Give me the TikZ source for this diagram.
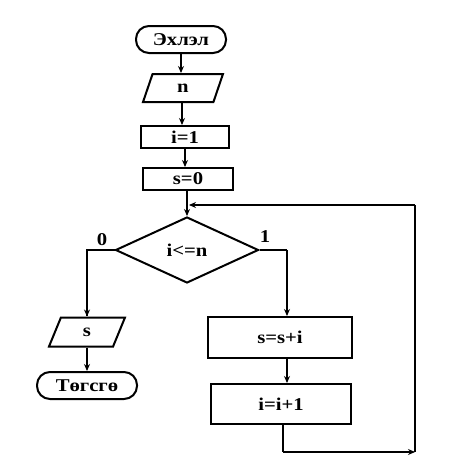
\documentclass[tikz,border=0pt]{standalone}
\usepackage{fontspec}
\setmainfont[FakeStretch=1.15]{Liberation Serif}
\usetikzlibrary{shapes.geometric,arrows.meta}
\begin{document}
\begin{tikzpicture}[x=1pt,y=-1pt,
  every node/.style={font=\fontsize{18}{20}\selectfont\bfseries, inner sep=0pt, line width=2pt},
  term/.style={draw, rectangle, rounded corners=13pt},
  io/.style={draw, trapezium, trapezium left angle=78, trapezium right angle=102, trapezium stretches=true},
  proc/.style={draw, rectangle},
  dec/.style={draw, diamond, aspect=2.17},
  conn/.style={line width=2pt},
  arr/.style={conn, -{Stealth[length=7pt,width=6pt]}},
  lbl/.style={font=\fontsize{18}{20}\selectfont\bfseries}]
\useasboundingbox (0,0) rectangle (459,458);
\node[term, minimum width=90pt, minimum height=27pt] (start) at (181,39.5) {Эхлэл};
\node[io, minimum width=80pt, minimum height=28pt] (n) at (183,88) {n};
\node[proc, minimum width=88pt, minimum height=22pt] (i1) at (185,137) {i=1};
\node[proc, minimum width=90pt, minimum height=22pt] (s0) at (188,179) {s=0};
\node[dec, minimum width=143pt, minimum height=66pt] (dia) at (187,250) {i<=n};
\node[io, minimum width=76pt, minimum height=29pt] (sout) at (87,332) {s};
\node[term, minimum width=100pt, minimum height=27pt] (end) at (87,385.5) {Төгсгө};
\node[proc, minimum width=144pt, minimum height=41pt] (ssi) at (280,337.5) {s=s+i};
\node[proc, minimum width=140pt, minimum height=40pt] (ii1) at (281,404) {i=i+1};
\node[lbl] (l0) at (102,240) {0};
\node[lbl] (l1) at (265,237) {1};
\coordinate (c1) at (415,452);
\coordinate (c2) at (415,205);
\coordinate (rb) at (287,250);
\coordinate (lb) at (283,452);
\draw[arr] (start) -- (start |- n.north);
\draw[arr] (n.south -| 182,0) -- (182,0 |- i1.north);
\draw[arr] (i1.south -| 185,0) -- (185,0 |- s0.north);
\draw[arr] (s0.south -| dia.north) -- (dia.north);
\draw[arr] (c2) -- ([xshift=2pt]dia.north |- c2);
\draw[conn] (dia.west) -| (sout.north);
\draw[arr] (dia.west -| sout.north) -- (sout.north);
\draw[conn] (dia.east) -- (rb);
\draw[arr] (rb) -- (rb |- ssi.north);
\draw[arr] (rb |- ssi.south) -- (rb |- ii1.north);
\draw[arr] (sout) -- (end);
\draw[conn] (lb |- ii1.south) -- (lb);
\draw[arr] (lb) -- (c1);
\draw[conn] (c1) -- (c2);
\end{tikzpicture}
\end{document}
